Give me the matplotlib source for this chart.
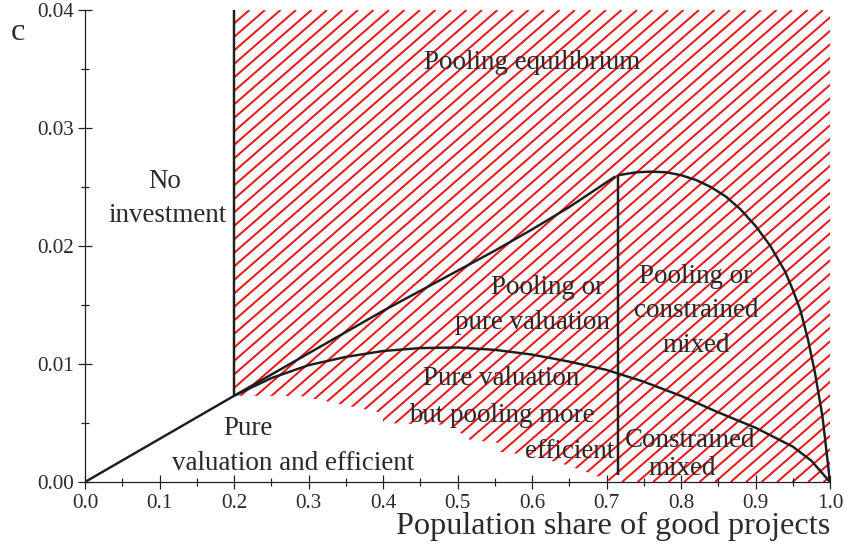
import matplotlib
matplotlib.use('Agg')
import numpy as np
from matplotlib import pyplot as plt
from matplotlib.collections import LineCollection
from matplotlib.patches import Polygon
from matplotlib.ticker import MultipleLocator, FormatStrFormatter

plt.rcParams['font.family'] = ['Liberation Serif', 'DejaVu Serif']

RED = '#e8181c'
INK = '#1e1e1e'
TXT = '#2a2a2a'

# regime boundaries
ray_x = [0.0, 0.2]
ray_y = [0.0, 0.0073]

split_x = 0.2
split_y = [0.0073, 0.04]

upper_x = [0.2, 0.25, 0.3, 0.35, 0.4, 0.45, 0.5, 0.55, 0.6, 0.65, 0.712]
upper_y = [0.0073, 0.0091, 0.0109, 0.0127, 0.0145, 0.0162, 0.0179, 0.0196, 0.0214,
           0.0233, 0.0259]

cut_x = 0.716
cut_y = [0.0006, 0.0260]

right_x = [0.716, 0.74, 0.76, 0.78, 0.80, 0.82, 0.84, 0.86, 0.88, 0.90, 0.92, 0.94,
           0.95, 0.96, 0.97, 0.98, 0.99, 1.0]
right_y = [0.0260, 0.02625, 0.0263, 0.02625, 0.0260, 0.0256, 0.0250, 0.0242, 0.0231,
           0.0217, 0.0200, 0.0178, 0.0163, 0.0146, 0.0122, 0.0092, 0.0055, 0.0]

lower_x = [0.2, 0.25, 0.3, 0.35, 0.4, 0.45, 0.5, 0.55, 0.6, 0.65, 0.7, 0.75, 0.8,
           0.85, 0.9, 0.95, 0.975, 1.0]
lower_y = [0.0073, 0.0088, 0.0099, 0.0106, 0.0111, 0.01135, 0.0114, 0.0112, 0.0108,
           0.0102, 0.0095, 0.0085, 0.0073, 0.0059, 0.0046, 0.0030, 0.0018, 0.0]

# stepped lower edge of the hatched (pooling) area, right to left
step_x = [0.707, 0.691, 0.651, 0.597, 0.557, 0.557, 0.517, 0.49, 0.4, 0.4, 0.289, 0.2]
step_y = [0.0, 0.00042, 0.00136, 0.00229, 0.00254, 0.0033, 0.00356, 0.00483, 0.0050,
          0.00585, 0.00729, 0.0073]

# region names, one entry per printed line
region_text = ['Pooling equilibrium', 'No', 'investment', 'Pooling or', 'pure valuation',
               'Pooling or', 'constrained', 'mixed', 'Pure valuation', 'but pooling more',
               'efficient', 'Pure', 'valuation and efficient', 'Constrained', 'mixed']
text_x = [0.600, 0.107, 0.111, 0.621, 0.601, 0.820, 0.820, 0.820, 0.559, 0.559,
          0.650, 0.219, 0.279, 0.812, 0.801]
text_y = [0.0350, 0.0249, 0.0220, 0.0159, 0.0130, 0.0169, 0.0140, 0.0110, 0.0082,
          0.0051, 0.0020, 0.0040, 0.0010, 0.0030, 0.0006]


def add_hatch(ax, xs, ys, v_px=13.5, h_px=15.5):
    # slanted red stripes clipped to the pooling region
    region = Polygon(np.column_stack([xs, ys]), closed=True, facecolor='none',
                     edgecolor='none', transform=ax.transData)
    ax.add_patch(region)
    bbox = ax.get_position()
    fig_w, fig_h = ax.figure.get_size_inches() * ax.figure.dpi
    x0, x1 = ax.get_xlim()
    y0, y1 = ax.get_ylim()
    px_x = bbox.width * fig_w / (x1 - x0)
    px_y = bbox.height * fig_h / (y1 - y0)
    run = (y1 - y0) * px_y * (h_px / v_px) / px_x
    step = h_px / px_x
    starts = split_x - run + step * np.arange(-10, 90)
    segs = [[(s, y0), (s + run, y1)] for s in starts]
    lc = LineCollection(segs, colors=RED, linewidths=1.8, zorder=1)
    ax.add_collection(lc)
    lc.set_clip_path(region)


def main(fname='out.png'):
    fig = plt.figure(figsize=(847 / 80, 544 / 80), dpi=80)
    ax = fig.add_axes([85 / 847, 62 / 544, 745 / 847, 472 / 544])
    ax.set_xlim(0, 1)
    ax.set_ylim(0, 0.04)

    hatch_x = [split_x, split_x, 1.0, 1.0] + step_x
    hatch_y = [split_y[0], split_y[1], 0.04, 0.0] + step_y
    add_hatch(ax, hatch_x, hatch_y)

    kw = dict(color=INK, linewidth=2.2, solid_capstyle='butt', zorder=3)
    ax.plot(ray_x, ray_y, **kw)
    ax.plot([split_x, split_x], split_y, **kw)
    ax.plot(upper_x, upper_y, **kw)
    ax.plot([cut_x, cut_x], cut_y, **kw)
    ax.plot(right_x, right_y, **kw)
    ax.plot(lower_x, lower_y, **kw)

    for text, x, y in zip(region_text, text_x, text_y):
        ax.text(x, y, text, ha='center', va='baseline', fontsize=24.3, color=TXT,
                zorder=4)

    ax.spines['top'].set_visible(False)
    ax.spines['right'].set_visible(False)
    for side in ('left', 'bottom'):
        ax.spines[side].set_linewidth(1.1)
        ax.spines[side].set_color(INK)

    ax.xaxis.set_major_locator(MultipleLocator(0.1))
    ax.xaxis.set_minor_locator(MultipleLocator(0.05))
    ax.yaxis.set_major_locator(MultipleLocator(0.01))
    ax.yaxis.set_minor_locator(MultipleLocator(0.005))
    ax.xaxis.set_major_formatter(FormatStrFormatter('%.1f'))
    ax.yaxis.set_major_formatter(FormatStrFormatter('%.2f'))
    ax.tick_params(which='major', direction='inout', length=13, width=1.1, color=INK,
                   labelsize=19, labelcolor=TXT)
    ax.tick_params(which='minor', direction='inout', length=7, width=1.1, color=INK)
    ax.tick_params(axis='x', pad=4)
    ax.tick_params(axis='y', pad=3)

    ax.set_xlabel('Population share of good projects', fontsize=29, color=TXT,
                  loc='right')
    ax.xaxis.set_label_coords(1.0, -0.062)
    ax.xaxis.label.set_va('top')
    ax.set_ylabel('c', fontsize=29, color=TXT, rotation=0, ha='center', va='baseline')
    ax.yaxis.set_label_coords(-0.09, 0.936)

    fig.savefig(fname, dpi=80)


if __name__ == '__main__':
    main()
